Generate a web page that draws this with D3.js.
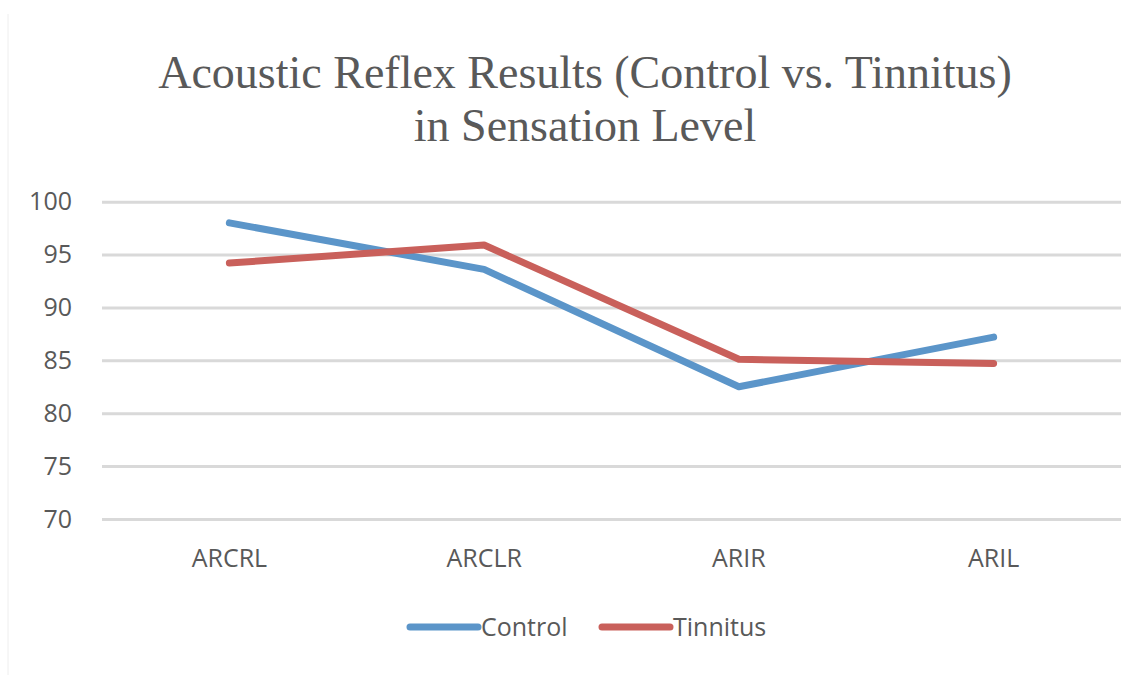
<!DOCTYPE html>
<html>
<head>
<meta charset="utf-8">
<script src="https://cdn.jsdelivr.net/npm/d3@7"></script>
<style>
  body { margin: 0; background: #fff; }
  svg { display: block; }
</style>
</head>
<body>
<svg id="chart" width="1148" height="675"></svg>
<script>
const categories = ["ARCRL", "ARCLR", "ARIR", "ARIL"]
const control = [98.0, 93.6, 82.5, 87.2]
const tinnitus = [94.2, 95.9, 85.1, 84.7]
const y_ticks = [70, 75, 80, 85, 90, 95, 100]
const series_names = ["Control", "Tinnitus"]

const colors = ["#5b95c9", "#c9605b"]
const text_color = "#595959"

const marginLeft = 102
const marginRight = 27
const marginTop = 201.7
const plotBottom = 519

const width = 1148
const height = 675

const svg = d3.select("#chart")

// faint frame of the chart area
svg.append("line")
  .attr("x1", 8).attr("x2", 8)
  .attr("y1", 14).attr("y2", height)
  .attr("stroke", "#eeeeee").attr("stroke-width", 1)

const x = d3.scaleBand()
  .domain(categories)
  .range([marginLeft, width - marginRight])

const y = d3.scaleLinear()
  .domain([70, 100])
  .range([plotBottom, marginTop])

// title
const title = svg.append("text")
  .attr("text-anchor", "middle")
  .attr("font-family", "'Liberation Serif', 'Times New Roman', serif")
  .attr("font-size", 46)
  .attr("fill", text_color)
title.append("tspan").attr("x", 585).attr("y", 88).text("Acoustic Reflex Results (Control vs. Tinnitus)")
title.append("tspan").attr("x", 585).attr("y", 141).text("in Sensation Level")

// gridlines + y labels
const y_axis = svg.append("g")
  .attr("transform", `translate(${marginLeft},0)`)
  .call(d3.axisLeft(y).tickValues(y_ticks).tickSize(-(width - marginRight - marginLeft)).tickPadding(30))
y_axis.select(".domain").remove()
y_axis.selectAll(".tick line").attr("stroke", "#d9d9d9").attr("stroke-width", 3)
y_axis.selectAll(".tick text")
  .attr("font-family", "'Open Sans', sans-serif")
  .attr("font-size", 25)
  .attr("fill", text_color)

// x labels
const x_axis = svg.append("g")
  .attr("transform", `translate(0,${plotBottom})`)
  .call(d3.axisBottom(x).tickSize(0).tickPadding(30))
x_axis.select(".domain").remove()
x_axis.selectAll(".tick text")
  .attr("font-family", "'Open Sans', sans-serif")
  .attr("font-size", 25)
  .attr("fill", text_color)

// lines
const line = d3.line()
  .x((d, i) => x(categories[i]) + x.bandwidth() / 2)
  .y(d => y(d))

;[control, tinnitus].forEach((values, i) => {
  svg.append("path")
    .datum(values)
    .attr("d", line)
    .attr("fill", "none")
    .attr("stroke", colors[i])
    .attr("stroke-width", 7)
    .attr("stroke-linecap", "round")
    .attr("stroke-linejoin", "round")
})

// legend
const legend_x = [410, 602]
series_names.forEach((name, i) => {
  const g = svg.append("g").attr("transform", `translate(${legend_x[i]},627)`)
  g.append("line")
    .attr("x1", 0).attr("x2", 68)
    .attr("stroke", colors[i])
    .attr("stroke-width", 7)
    .attr("stroke-linecap", "round")
  g.append("text")
    .attr("x", 71).attr("y", 9)
    .attr("font-family", "'Open Sans', sans-serif")
    .attr("font-size", 25)
    .attr("fill", text_color)
    .text(name)
})
</script>
</body>
</html>
